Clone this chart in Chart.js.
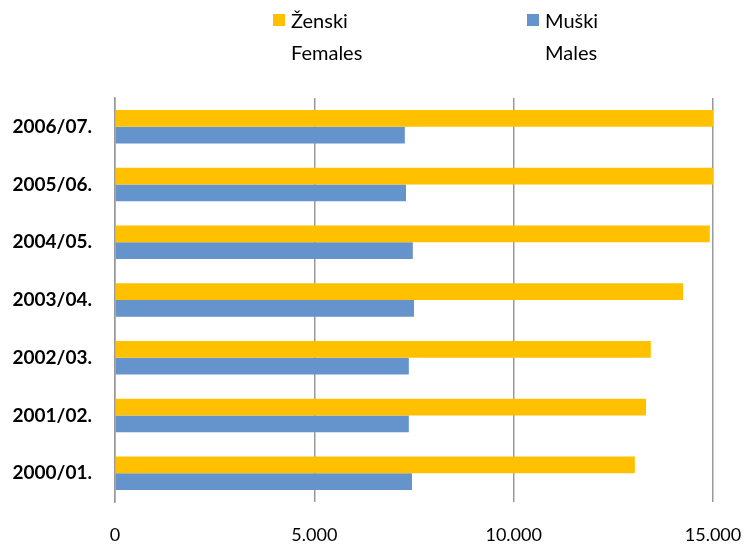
<!DOCTYPE html>
<html>
<head>
<meta charset="utf-8">
<script src="https://cdn.jsdelivr.net/npm/chart.js@4"></script>
<style>
  html, body { margin: 0; padding: 0; background: #fff; }
  #wrap { position: relative; width: 748px; height: 547px; }
  canvas { position: absolute; left: 0; top: 0; }
  .leg { position: absolute; font-family: Lato, 'Open Sans', sans-serif; font-size: 20px; color: #000; line-height: 32px; }
  .leg .sw { position: absolute; left: -18px; top: 10px; width: 12px; height: 12px; }
</style>
</head>
<body>
<div id="wrap">
  <canvas id="chart" width="748" height="547"></canvas>
  <div class="leg" style="left:291px; top:4px;"><span class="sw" style="background:#FFC000"></span>Ženski<br>Females</div>
  <div class="leg" style="left:545px; top:4px;"><span class="sw" style="background:#6593CC"></span>Muški<br>Males</div>
</div>
<script>
const years = ['2006/07.', '2005/06.', '2004/05.', '2003/04.', '2002/03.', '2001/02.', '2000/01.'];
const females = [15000, 15000, 14920, 14250, 13440, 13320, 13040];
const males = [7270, 7300, 7470, 7500, 7370, 7370, 7450];
const xTicks = [0, 5000, 10000, 15000];

const fmt = v => String(v).replace(/\B(?=(\d{3})+(?!\d))/g, '.');

new Chart(document.getElementById('chart'), {
  type: 'bar',
  data: {
    labels: years,
    datasets: [
      { label: 'Ženski Females', data: females, backgroundColor: '#FFC000', barPercentage: 1, categoryPercentage: 0.58 },
      { label: 'Muški Males', data: males, backgroundColor: '#6593CC', barPercentage: 1, categoryPercentage: 0.58 }
    ]
  },
  options: {
    indexAxis: 'y',
    responsive: false,
    animation: false,
    layout: { padding: { top: 98, right: 35, left: 0, bottom: 0 } },
    plugins: { legend: { display: false }, tooltip: { enabled: false } },
    scales: {
      x: {
        min: 0, max: 15000,
        afterBuildTicks: s => { s.ticks = xTicks.map(v => ({ value: v })); },
        afterFit: s => { s.height = 45; s.paddingRight = 0; s.paddingLeft = 0; },
        grid: { color: '#999', lineWidth: 1.5, drawTicks: false },
        border: { display: false },
        ticks: { padding: 22, color: '#000', font: { family: 'Lato', size: 18 }, callback: v => fmt(v), maxRotation: 0 }
      },
      y: {
        afterFit: s => { s.width = 115; },
        grid: { display: false },
        border: { display: true, color: '#999', width: 1.5 },
        ticks: { padding: 15, color: '#000', font: { family: 'Lato', size: 19, weight: 'bold' } }
      }
    }
  }
});
</script>
</body>
</html>
